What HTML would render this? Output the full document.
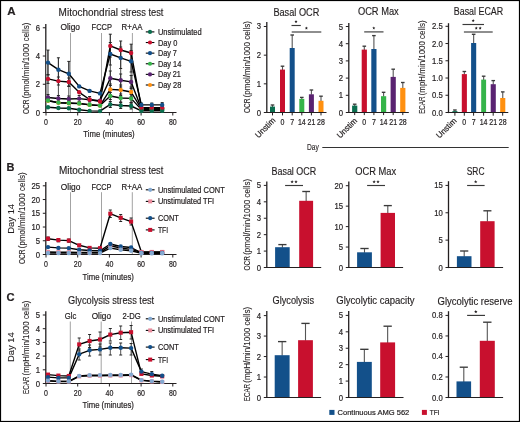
<!DOCTYPE html>
<html><head><meta charset="utf-8"><title>Figure</title>
<style>
html,body{margin:0;padding:0;background:#fff;}
body{width:520px;height:422px;overflow:hidden;position:relative;}
svg{position:absolute;left:0;top:0;display:block;}
text{font-family:"Liberation Sans",sans-serif;fill:#231f20;stroke:#231f20;stroke-width:0.2px;}
svg{will-change:transform;}
</style></head><body>
<svg width="520" height="422" viewBox="0 0 520 422" font-family="Liberation Sans, sans-serif" font-size="8">
<rect x="0" y="0" width="520" height="422" fill="#fff"/>
<text x="7.3" y="15.3" font-weight="bold" font-size="11.5">A</text>
<text x="58.6" y="15.7" style="stroke-width:0.15px" textLength="59.4" lengthAdjust="spacingAndGlyphs" font-size="10.2">Mitochondrial</text>
<text x="121.1" y="15.7" style="stroke-width:0.15px" textLength="42.3" lengthAdjust="spacingAndGlyphs" font-size="10.2">stress test</text>
<text x="60.4" y="29.5" textLength="19.6" lengthAdjust="spacingAndGlyphs" font-size="8.2">Oligo</text>
<text x="91.6" y="29.5" textLength="20.3" lengthAdjust="spacingAndGlyphs" font-size="8.2">FCCP</text>
<text x="121.6" y="29.5" textLength="20.8" lengthAdjust="spacingAndGlyphs" font-size="8.2">R+AA</text>
<line x1="70.5" y1="33" x2="70.5" y2="112.4" stroke="#8c8c8c" stroke-width="0.8"/>
<line x1="101.5" y1="33" x2="101.5" y2="112.4" stroke="#8c8c8c" stroke-width="0.8"/>
<line x1="132.4" y1="33" x2="132.4" y2="112.4" stroke="#8c8c8c" stroke-width="0.8"/>
<line x1="45.8" y1="24" x2="45.8" y2="113.1" stroke="#231f20" stroke-width="1.3"/>
<line x1="42.8" y1="112.5" x2="45.8" y2="112.5" stroke="#231f20" stroke-width="1"/>
<text x="40.1" y="115.5" text-anchor="end" textLength="4.3" lengthAdjust="spacingAndGlyphs" font-size="8.5">0</text>
<line x1="42.8" y1="84.26" x2="45.8" y2="84.26" stroke="#231f20" stroke-width="1"/>
<text x="40.1" y="87.26" text-anchor="end" textLength="4.3" lengthAdjust="spacingAndGlyphs" font-size="8.5">2</text>
<line x1="42.8" y1="56.02" x2="45.8" y2="56.02" stroke="#231f20" stroke-width="1"/>
<text x="40.1" y="59.02" text-anchor="end" textLength="4.3" lengthAdjust="spacingAndGlyphs" font-size="8.5">4</text>
<line x1="42.8" y1="27.78" x2="45.8" y2="27.78" stroke="#231f20" stroke-width="1"/>
<text x="40.1" y="30.78" text-anchor="end" textLength="4.3" lengthAdjust="spacingAndGlyphs" font-size="8.5">6</text>
<line x1="45.2" y1="112.5" x2="176.5" y2="112.5" stroke="#231f20" stroke-width="1.15"/>
<line x1="46" y1="112.5" x2="46" y2="115.5" stroke="#231f20" stroke-width="1"/>
<text x="46" y="124.6" text-anchor="middle" textLength="3.9" lengthAdjust="spacingAndGlyphs" font-size="8.3">0</text>
<line x1="77.7" y1="112.5" x2="77.7" y2="115.5" stroke="#231f20" stroke-width="1"/>
<text x="77.7" y="124.6" text-anchor="middle" textLength="7.8" lengthAdjust="spacingAndGlyphs" font-size="8.3">20</text>
<line x1="109.4" y1="112.5" x2="109.4" y2="115.5" stroke="#231f20" stroke-width="1"/>
<text x="109.4" y="124.6" text-anchor="middle" textLength="7.8" lengthAdjust="spacingAndGlyphs" font-size="8.3">40</text>
<line x1="141.1" y1="112.5" x2="141.1" y2="115.5" stroke="#231f20" stroke-width="1"/>
<text x="141.1" y="124.6" text-anchor="middle" textLength="7.8" lengthAdjust="spacingAndGlyphs" font-size="8.3">60</text>
<line x1="172.8" y1="112.5" x2="172.8" y2="115.5" stroke="#231f20" stroke-width="1"/>
<text x="172.8" y="124.6" text-anchor="middle" textLength="7.8" lengthAdjust="spacingAndGlyphs" font-size="8.3">80</text>
<text x="83.3" y="137.3" textLength="51.4" lengthAdjust="spacingAndGlyphs" font-size="8.8">Time (minutes)</text>
<text x="29.2" y="114.1" style="stroke-width:0.1px" textLength="14.6" lengthAdjust="spacingAndGlyphs" font-size="9.4" transform="rotate(-90 29.2 114.1)">OCR</text>
<text x="29.2" y="98.3" style="stroke-width:0.1px" textLength="75.6" lengthAdjust="spacingAndGlyphs" font-size="9.4" transform="rotate(-90 29.2 98.3)">(pmol/min/1000 cells)</text>
<rect x="46.1" y="50.1" width="1.9" height="25" fill="#c4c4c4"/>
<rect x="68.9" y="61.4" width="1.6" height="24.6" fill="#cfcfcf"/>
<line x1="48" y1="50.1" x2="48" y2="100" stroke="#2a2a2a" stroke-width="0.85"/>
<line x1="58.4" y1="57.8" x2="58.4" y2="101" stroke="#2a2a2a" stroke-width="0.85"/>
<line x1="68.8" y1="61.4" x2="68.8" y2="101.5" stroke="#2a2a2a" stroke-width="0.85"/>
<line x1="110.3" y1="34.2" x2="110.3" y2="107.5" stroke="#2a2a2a" stroke-width="0.85"/>
<line x1="120.7" y1="41" x2="120.7" y2="108.5" stroke="#2a2a2a" stroke-width="0.85"/>
<line x1="131.1" y1="44.2" x2="131.1" y2="109" stroke="#2a2a2a" stroke-width="0.85"/>
<line x1="48" y1="50.1" x2="48" y2="75" stroke="#262626" stroke-width="0.8"/>
<line x1="46.5" y1="50.1" x2="49.5" y2="50.1" stroke="#262626" stroke-width="1"/>
<line x1="46.5" y1="75" x2="49.5" y2="75" stroke="#262626" stroke-width="1"/>
<line x1="58.4" y1="57.8" x2="58.4" y2="81.6" stroke="#262626" stroke-width="0.8"/>
<line x1="56.9" y1="57.8" x2="59.9" y2="57.8" stroke="#262626" stroke-width="1"/>
<line x1="56.9" y1="81.6" x2="59.9" y2="81.6" stroke="#262626" stroke-width="1"/>
<line x1="68.8" y1="61.4" x2="68.8" y2="86" stroke="#262626" stroke-width="0.8"/>
<line x1="67.3" y1="61.4" x2="70.3" y2="61.4" stroke="#262626" stroke-width="1"/>
<line x1="67.3" y1="86" x2="70.3" y2="86" stroke="#262626" stroke-width="1"/>
<line x1="48" y1="74.5" x2="48" y2="83.4" stroke="#262626" stroke-width="0.8"/>
<line x1="46.5" y1="74.5" x2="49.5" y2="74.5" stroke="#262626" stroke-width="1"/>
<line x1="46.5" y1="83.4" x2="49.5" y2="83.4" stroke="#262626" stroke-width="1"/>
<line x1="58.4" y1="77" x2="58.4" y2="85" stroke="#262626" stroke-width="0.8"/>
<line x1="56.9" y1="77" x2="59.9" y2="77" stroke="#262626" stroke-width="1"/>
<line x1="56.9" y1="85" x2="59.9" y2="85" stroke="#262626" stroke-width="1"/>
<line x1="68.8" y1="78" x2="68.8" y2="86.5" stroke="#262626" stroke-width="0.8"/>
<line x1="67.3" y1="78" x2="70.3" y2="78" stroke="#262626" stroke-width="1"/>
<line x1="67.3" y1="86.5" x2="70.3" y2="86.5" stroke="#262626" stroke-width="1"/>
<line x1="110.3" y1="34.2" x2="110.3" y2="57" stroke="#262626" stroke-width="0.8"/>
<line x1="108.8" y1="34.2" x2="111.8" y2="34.2" stroke="#262626" stroke-width="1"/>
<line x1="108.8" y1="57" x2="111.8" y2="57" stroke="#262626" stroke-width="1"/>
<line x1="120.7" y1="41" x2="120.7" y2="58.5" stroke="#262626" stroke-width="0.8"/>
<line x1="119.2" y1="41" x2="122.2" y2="41" stroke="#262626" stroke-width="1"/>
<line x1="119.2" y1="58.5" x2="122.2" y2="58.5" stroke="#262626" stroke-width="1"/>
<line x1="131.1" y1="44.2" x2="131.1" y2="61" stroke="#262626" stroke-width="0.8"/>
<line x1="129.6" y1="44.2" x2="132.6" y2="44.2" stroke="#262626" stroke-width="1"/>
<line x1="129.6" y1="61" x2="132.6" y2="61" stroke="#262626" stroke-width="1"/>
<line x1="110.3" y1="42.5" x2="110.3" y2="65" stroke="#262626" stroke-width="0.8"/>
<line x1="108.8" y1="42.5" x2="111.8" y2="42.5" stroke="#262626" stroke-width="1"/>
<line x1="108.8" y1="65" x2="111.8" y2="65" stroke="#262626" stroke-width="1"/>
<line x1="120.7" y1="47" x2="120.7" y2="68.5" stroke="#262626" stroke-width="0.8"/>
<line x1="119.2" y1="47" x2="122.2" y2="47" stroke="#262626" stroke-width="1"/>
<line x1="119.2" y1="68.5" x2="122.2" y2="68.5" stroke="#262626" stroke-width="1"/>
<line x1="131.1" y1="50.5" x2="131.1" y2="72" stroke="#262626" stroke-width="0.8"/>
<line x1="129.6" y1="50.5" x2="132.6" y2="50.5" stroke="#262626" stroke-width="1"/>
<line x1="129.6" y1="72" x2="132.6" y2="72" stroke="#262626" stroke-width="1"/>
<line x1="110.3" y1="71" x2="110.3" y2="85.5" stroke="#262626" stroke-width="0.8"/>
<line x1="108.8" y1="71" x2="111.8" y2="71" stroke="#262626" stroke-width="1"/>
<line x1="108.8" y1="85.5" x2="111.8" y2="85.5" stroke="#262626" stroke-width="1"/>
<line x1="120.7" y1="74" x2="120.7" y2="87" stroke="#262626" stroke-width="0.8"/>
<line x1="119.2" y1="74" x2="122.2" y2="74" stroke="#262626" stroke-width="1"/>
<line x1="119.2" y1="87" x2="122.2" y2="87" stroke="#262626" stroke-width="1"/>
<line x1="131.1" y1="75.5" x2="131.1" y2="88.5" stroke="#262626" stroke-width="0.8"/>
<line x1="129.6" y1="75.5" x2="132.6" y2="75.5" stroke="#262626" stroke-width="1"/>
<line x1="129.6" y1="88.5" x2="132.6" y2="88.5" stroke="#262626" stroke-width="1"/>
<line x1="110.3" y1="84" x2="110.3" y2="95" stroke="#262626" stroke-width="0.8"/>
<line x1="108.8" y1="84" x2="111.8" y2="84" stroke="#262626" stroke-width="1"/>
<line x1="108.8" y1="95" x2="111.8" y2="95" stroke="#262626" stroke-width="1"/>
<line x1="120.7" y1="85" x2="120.7" y2="95.5" stroke="#262626" stroke-width="0.8"/>
<line x1="119.2" y1="85" x2="122.2" y2="85" stroke="#262626" stroke-width="1"/>
<line x1="119.2" y1="95.5" x2="122.2" y2="95.5" stroke="#262626" stroke-width="1"/>
<line x1="131.1" y1="87" x2="131.1" y2="97" stroke="#262626" stroke-width="0.8"/>
<line x1="129.6" y1="87" x2="132.6" y2="87" stroke="#262626" stroke-width="1"/>
<line x1="129.6" y1="97" x2="132.6" y2="97" stroke="#262626" stroke-width="1"/>
<line x1="110.3" y1="92.5" x2="110.3" y2="99.5" stroke="#262626" stroke-width="0.8"/>
<line x1="108.8" y1="92.5" x2="111.8" y2="92.5" stroke="#262626" stroke-width="1"/>
<line x1="108.8" y1="99.5" x2="111.8" y2="99.5" stroke="#262626" stroke-width="1"/>
<line x1="120.7" y1="94" x2="120.7" y2="102" stroke="#262626" stroke-width="0.8"/>
<line x1="119.2" y1="94" x2="122.2" y2="94" stroke="#262626" stroke-width="1"/>
<line x1="119.2" y1="102" x2="122.2" y2="102" stroke="#262626" stroke-width="1"/>
<line x1="131.1" y1="94.5" x2="131.1" y2="102.5" stroke="#262626" stroke-width="0.8"/>
<line x1="129.6" y1="94.5" x2="132.6" y2="94.5" stroke="#262626" stroke-width="1"/>
<line x1="129.6" y1="102.5" x2="132.6" y2="102.5" stroke="#262626" stroke-width="1"/>
<line x1="110.3" y1="101.5" x2="110.3" y2="107.5" stroke="#262626" stroke-width="0.8"/>
<line x1="108.8" y1="101.5" x2="111.8" y2="101.5" stroke="#262626" stroke-width="1"/>
<line x1="108.8" y1="107.5" x2="111.8" y2="107.5" stroke="#262626" stroke-width="1"/>
<line x1="120.7" y1="102.5" x2="120.7" y2="108.5" stroke="#262626" stroke-width="0.8"/>
<line x1="119.2" y1="102.5" x2="122.2" y2="102.5" stroke="#262626" stroke-width="1"/>
<line x1="119.2" y1="108.5" x2="122.2" y2="108.5" stroke="#262626" stroke-width="1"/>
<line x1="131.1" y1="103" x2="131.1" y2="109" stroke="#262626" stroke-width="0.8"/>
<line x1="129.6" y1="103" x2="132.6" y2="103" stroke="#262626" stroke-width="1"/>
<line x1="129.6" y1="109" x2="132.6" y2="109" stroke="#262626" stroke-width="1"/>
<line x1="48" y1="94.5" x2="48" y2="100" stroke="#262626" stroke-width="0.8"/>
<line x1="46.5" y1="94.5" x2="49.5" y2="94.5" stroke="#262626" stroke-width="1"/>
<line x1="46.5" y1="100" x2="49.5" y2="100" stroke="#262626" stroke-width="1"/>
<line x1="58.4" y1="95.5" x2="58.4" y2="101" stroke="#262626" stroke-width="0.8"/>
<line x1="56.9" y1="95.5" x2="59.9" y2="95.5" stroke="#262626" stroke-width="1"/>
<line x1="56.9" y1="101" x2="59.9" y2="101" stroke="#262626" stroke-width="1"/>
<line x1="68.8" y1="96" x2="68.8" y2="101.5" stroke="#262626" stroke-width="0.8"/>
<line x1="67.3" y1="96" x2="70.3" y2="96" stroke="#262626" stroke-width="1"/>
<line x1="67.3" y1="101.5" x2="70.3" y2="101.5" stroke="#262626" stroke-width="1"/>
<line x1="79.2" y1="95.5" x2="79.2" y2="101.5" stroke="#262626" stroke-width="0.8"/>
<line x1="77.7" y1="95.5" x2="80.7" y2="95.5" stroke="#262626" stroke-width="1"/>
<line x1="77.7" y1="101.5" x2="80.7" y2="101.5" stroke="#262626" stroke-width="1"/>
<line x1="89.6" y1="96.5" x2="89.6" y2="102" stroke="#262626" stroke-width="0.8"/>
<line x1="88.1" y1="96.5" x2="91.1" y2="96.5" stroke="#262626" stroke-width="1"/>
<line x1="88.1" y1="102" x2="91.1" y2="102" stroke="#262626" stroke-width="1"/>
<line x1="141.4" y1="103" x2="141.4" y2="107" stroke="#262626" stroke-width="0.8"/>
<line x1="139.9" y1="103" x2="142.9" y2="103" stroke="#262626" stroke-width="1"/>
<line x1="139.9" y1="107" x2="142.9" y2="107" stroke="#262626" stroke-width="1"/>
<line x1="151.8" y1="103" x2="151.8" y2="107" stroke="#262626" stroke-width="0.8"/>
<line x1="150.3" y1="103" x2="153.3" y2="103" stroke="#262626" stroke-width="1"/>
<line x1="150.3" y1="107" x2="153.3" y2="107" stroke="#262626" stroke-width="1"/>
<line x1="162.2" y1="102.6" x2="162.2" y2="107" stroke="#262626" stroke-width="0.8"/>
<line x1="160.7" y1="102.6" x2="163.7" y2="102.6" stroke="#262626" stroke-width="1"/>
<line x1="160.7" y1="107" x2="163.7" y2="107" stroke="#262626" stroke-width="1"/>
<polyline points="48,100.7 58.4,102.8 68.8,103.2 79.2,103.6 89.6,104.9 100,105.6 110.3,89.4 120.7,90 131.1,92 141.4,108.8 151.8,108.8 162.2,108.8" fill="none" stroke="#000" stroke-width="1.4" stroke-linejoin="round"/>
<polyline points="48,97.5 58.4,98.5 68.8,99 79.2,98.6 89.6,99.8 100,100.6 110.3,78.3 120.7,80.3 131.1,81.9 141.4,108.6 151.8,108.6 162.2,108.6" fill="none" stroke="#000" stroke-width="1.4" stroke-linejoin="round"/>
<polyline points="48,100.5 58.4,102.6 68.8,103 79.2,103.4 89.6,104.7 100,105.5 110.3,96 120.7,98 131.1,98.4 141.4,109.6 151.8,109.6 162.2,109.6" fill="none" stroke="#000" stroke-width="1.4" stroke-linejoin="round"/>
<polyline points="48,107.2 58.4,108 68.8,108.2 79.2,109.8 89.6,110.9 100,111.1 110.3,104.4 120.7,105.5 131.1,106 141.4,110.8 151.8,110.8 162.2,110.8" fill="none" stroke="#000" stroke-width="1.4" stroke-linejoin="round"/>
<polyline points="48,78.9 58.4,81.1 68.8,82 79.2,92.3 89.6,99.5 100,101.5 110.3,45.9 120.7,50 131.1,53 141.4,107.6 151.8,107.6 162.2,107.6" fill="none" stroke="#000" stroke-width="1.4" stroke-linejoin="round"/>
<polyline points="48,62.6 58.4,69.7 68.8,73.8 79.2,86.4 89.6,90.9 100,93.4 110.3,54 120.7,57.9 131.1,61.3 141.4,104.9 151.8,104.9 162.2,104.9" fill="none" stroke="#000" stroke-width="1.4" stroke-linejoin="round"/>
<circle cx="48" cy="100.7" r="2.2" fill="#ff9010"/>
<circle cx="58.4" cy="102.8" r="2.2" fill="#ff9010"/>
<circle cx="68.8" cy="103.2" r="2.2" fill="#ff9010"/>
<circle cx="79.2" cy="103.6" r="2.2" fill="#ff9010"/>
<circle cx="89.6" cy="104.9" r="2.2" fill="#ff9010"/>
<circle cx="100" cy="105.6" r="2.2" fill="#ff9010"/>
<circle cx="110.3" cy="89.4" r="2.2" fill="#ff9010"/>
<circle cx="120.7" cy="90" r="2.2" fill="#ff9010"/>
<circle cx="131.1" cy="92" r="2.2" fill="#ff9010"/>
<circle cx="141.4" cy="108.8" r="2.2" fill="#ff9010"/>
<circle cx="151.8" cy="108.8" r="2.2" fill="#ff9010"/>
<circle cx="162.2" cy="108.8" r="2.2" fill="#ff9010"/>
<circle cx="48" cy="97.5" r="2.2" fill="#5a2371"/>
<circle cx="58.4" cy="98.5" r="2.2" fill="#5a2371"/>
<circle cx="68.8" cy="99" r="2.2" fill="#5a2371"/>
<circle cx="79.2" cy="98.6" r="2.2" fill="#5a2371"/>
<circle cx="89.6" cy="99.8" r="2.2" fill="#5a2371"/>
<circle cx="100" cy="100.6" r="2.2" fill="#5a2371"/>
<circle cx="110.3" cy="78.3" r="2.2" fill="#5a2371"/>
<circle cx="120.7" cy="80.3" r="2.2" fill="#5a2371"/>
<circle cx="131.1" cy="81.9" r="2.2" fill="#5a2371"/>
<circle cx="141.4" cy="108.6" r="2.2" fill="#5a2371"/>
<circle cx="151.8" cy="108.6" r="2.2" fill="#5a2371"/>
<circle cx="162.2" cy="108.6" r="2.2" fill="#5a2371"/>
<circle cx="48" cy="100.5" r="2.2" fill="#35b449"/>
<circle cx="58.4" cy="102.6" r="2.2" fill="#35b449"/>
<circle cx="68.8" cy="103" r="2.2" fill="#35b449"/>
<circle cx="79.2" cy="103.4" r="2.2" fill="#35b449"/>
<circle cx="89.6" cy="104.7" r="2.2" fill="#35b449"/>
<circle cx="100" cy="105.5" r="2.2" fill="#35b449"/>
<circle cx="110.3" cy="96" r="2.2" fill="#35b449"/>
<circle cx="120.7" cy="98" r="2.2" fill="#35b449"/>
<circle cx="131.1" cy="98.4" r="2.2" fill="#35b449"/>
<circle cx="141.4" cy="109.6" r="2.2" fill="#35b449"/>
<circle cx="151.8" cy="109.6" r="2.2" fill="#35b449"/>
<circle cx="162.2" cy="109.6" r="2.2" fill="#35b449"/>
<circle cx="48" cy="107.2" r="2.2" fill="#0b6e4f"/>
<circle cx="58.4" cy="108" r="2.2" fill="#0b6e4f"/>
<circle cx="68.8" cy="108.2" r="2.2" fill="#0b6e4f"/>
<circle cx="79.2" cy="109.8" r="2.2" fill="#0b6e4f"/>
<circle cx="89.6" cy="110.9" r="2.2" fill="#0b6e4f"/>
<circle cx="100" cy="111.1" r="2.2" fill="#0b6e4f"/>
<circle cx="110.3" cy="104.4" r="2.2" fill="#0b6e4f"/>
<circle cx="120.7" cy="105.5" r="2.2" fill="#0b6e4f"/>
<circle cx="131.1" cy="106" r="2.2" fill="#0b6e4f"/>
<circle cx="141.4" cy="110.8" r="2.2" fill="#0b6e4f"/>
<circle cx="151.8" cy="110.8" r="2.2" fill="#0b6e4f"/>
<circle cx="162.2" cy="110.8" r="2.2" fill="#0b6e4f"/>
<circle cx="48" cy="78.9" r="2.2" fill="#c8102e"/>
<circle cx="58.4" cy="81.1" r="2.2" fill="#c8102e"/>
<circle cx="68.8" cy="82" r="2.2" fill="#c8102e"/>
<circle cx="79.2" cy="92.3" r="2.2" fill="#c8102e"/>
<circle cx="89.6" cy="99.5" r="2.2" fill="#c8102e"/>
<circle cx="100" cy="101.5" r="2.2" fill="#c8102e"/>
<circle cx="110.3" cy="45.9" r="2.2" fill="#c8102e"/>
<circle cx="120.7" cy="50" r="2.2" fill="#c8102e"/>
<circle cx="131.1" cy="53" r="2.2" fill="#c8102e"/>
<circle cx="141.4" cy="107.6" r="2.2" fill="#c8102e"/>
<circle cx="151.8" cy="107.6" r="2.2" fill="#c8102e"/>
<circle cx="162.2" cy="107.6" r="2.2" fill="#c8102e"/>
<circle cx="48" cy="62.6" r="2.2" fill="#13508a"/>
<circle cx="58.4" cy="69.7" r="2.2" fill="#13508a"/>
<circle cx="68.8" cy="73.8" r="2.2" fill="#13508a"/>
<circle cx="79.2" cy="86.4" r="2.2" fill="#13508a"/>
<circle cx="89.6" cy="90.9" r="2.2" fill="#13508a"/>
<circle cx="100" cy="93.4" r="2.2" fill="#13508a"/>
<circle cx="110.3" cy="54" r="2.2" fill="#13508a"/>
<circle cx="120.7" cy="57.9" r="2.2" fill="#13508a"/>
<circle cx="131.1" cy="61.3" r="2.2" fill="#13508a"/>
<circle cx="141.4" cy="104.9" r="2.2" fill="#13508a"/>
<circle cx="151.8" cy="104.9" r="2.2" fill="#13508a"/>
<circle cx="162.2" cy="104.9" r="2.2" fill="#13508a"/>
<line x1="145.8" y1="31.9" x2="154.4" y2="31.9" stroke="#000" stroke-width="1.1"/>
<circle cx="150" cy="31.9" r="2.1" fill="#0b6e4f"/>
<text x="157.9" y="34.9" textLength="43.8" lengthAdjust="spacingAndGlyphs" font-size="8.3">Unstimulated</text>
<line x1="145.8" y1="42.52" x2="154.4" y2="42.52" stroke="#000" stroke-width="1.1"/>
<circle cx="150" cy="42.52" r="2.1" fill="#c8102e"/>
<text x="157.9" y="45.52" textLength="19.4" lengthAdjust="spacingAndGlyphs" font-size="8.3">Day 0</text>
<line x1="145.8" y1="53.14" x2="154.4" y2="53.14" stroke="#000" stroke-width="1.1"/>
<circle cx="150" cy="53.14" r="2.1" fill="#13508a"/>
<text x="157.9" y="56.14" textLength="19" lengthAdjust="spacingAndGlyphs" font-size="8.3">Day 7</text>
<line x1="145.8" y1="63.76" x2="154.4" y2="63.76" stroke="#000" stroke-width="1.1"/>
<circle cx="150" cy="63.76" r="2.1" fill="#35b449"/>
<text x="157.9" y="66.76" textLength="23.4" lengthAdjust="spacingAndGlyphs" font-size="8.3">Day 14</text>
<line x1="145.8" y1="74.38" x2="154.4" y2="74.38" stroke="#000" stroke-width="1.1"/>
<circle cx="150" cy="74.38" r="2.1" fill="#5a2371"/>
<text x="157.9" y="77.38" textLength="23" lengthAdjust="spacingAndGlyphs" font-size="8.3">Day 21</text>
<line x1="145.8" y1="85" x2="154.4" y2="85" stroke="#000" stroke-width="1.1"/>
<circle cx="150" cy="85" r="2.1" fill="#ff9010"/>
<text x="157.9" y="88" textLength="23.4" lengthAdjust="spacingAndGlyphs" font-size="8.3">Day 28</text>
<line x1="266.8" y1="21.9" x2="266.8" y2="113.1" stroke="#231f20" stroke-width="1.3"/>
<line x1="263.8" y1="112.5" x2="266.8" y2="112.5" stroke="#231f20" stroke-width="1"/>
<text x="261.1" y="115.5" text-anchor="end" textLength="4.3" lengthAdjust="spacingAndGlyphs" font-size="8.5">0</text>
<line x1="263.8" y1="83.83" x2="266.8" y2="83.83" stroke="#231f20" stroke-width="1"/>
<text x="261.1" y="86.83" text-anchor="end" textLength="4.3" lengthAdjust="spacingAndGlyphs" font-size="8.5">1</text>
<line x1="263.8" y1="55.16" x2="266.8" y2="55.16" stroke="#231f20" stroke-width="1"/>
<text x="261.1" y="58.16" text-anchor="end" textLength="4.3" lengthAdjust="spacingAndGlyphs" font-size="8.5">2</text>
<line x1="263.8" y1="26.49" x2="266.8" y2="26.49" stroke="#231f20" stroke-width="1"/>
<text x="261.1" y="29.49" text-anchor="end" textLength="4.3" lengthAdjust="spacingAndGlyphs" font-size="8.5">3</text>
<line x1="272.5" y1="105" x2="272.5" y2="107.1" stroke="#555" stroke-width="1.1"/>
<line x1="270.7" y1="105" x2="274.3" y2="105" stroke="#3a3a3a" stroke-width="1.35"/>
<rect x="270" y="106.6" width="5" height="5.9" fill="#0b6e4f"/>
<line x1="282.5" y1="66.2" x2="282.5" y2="70.1" stroke="#555" stroke-width="1.1"/>
<line x1="280.7" y1="66.2" x2="284.3" y2="66.2" stroke="#3a3a3a" stroke-width="1.35"/>
<rect x="280" y="69.6" width="5" height="42.9" fill="#c8102e"/>
<line x1="292.2" y1="35" x2="292.2" y2="48.5" stroke="#555" stroke-width="1.1"/>
<line x1="290.4" y1="35" x2="294" y2="35" stroke="#3a3a3a" stroke-width="1.35"/>
<rect x="289.7" y="48" width="5" height="64.5" fill="#13508a"/>
<line x1="301.8" y1="97.4" x2="301.8" y2="99.4" stroke="#555" stroke-width="1.1"/>
<line x1="300" y1="97.4" x2="303.6" y2="97.4" stroke="#3a3a3a" stroke-width="1.35"/>
<rect x="299.3" y="98.9" width="5" height="13.6" fill="#35b449"/>
<line x1="311.4" y1="90" x2="311.4" y2="94.8" stroke="#555" stroke-width="1.1"/>
<line x1="309.6" y1="90" x2="313.2" y2="90" stroke="#3a3a3a" stroke-width="1.35"/>
<rect x="308.9" y="94.3" width="5" height="18.2" fill="#5a2371"/>
<line x1="321" y1="96.2" x2="321" y2="101.3" stroke="#555" stroke-width="1.1"/>
<line x1="319.2" y1="96.2" x2="322.8" y2="96.2" stroke="#3a3a3a" stroke-width="1.35"/>
<rect x="318.5" y="100.8" width="5" height="11.7" fill="#ff9010"/>
<line x1="266.2" y1="112.5" x2="326.5" y2="112.5" stroke="#231f20" stroke-width="1.15"/>
<line x1="291.5" y1="25.5" x2="300.8" y2="25.5" stroke="#3a3a3a" stroke-width="1.15"/>
<polygon points="296,20.1 296.42,21.12 297.52,21.21 296.68,21.92 296.94,22.99 296,22.42 295.06,22.99 295.32,21.92 294.48,21.21 295.58,21.12" fill="#231f20"/>
<line x1="291.7" y1="32" x2="321.3" y2="32" stroke="#3a3a3a" stroke-width="1.15"/>
<polygon points="306.4,26.6 306.82,27.62 307.92,27.71 307.08,28.42 307.34,29.49 306.4,28.92 305.46,29.49 305.72,28.42 304.88,27.71 305.98,27.62" fill="#231f20"/>
<text x="273.4" y="15.5" style="stroke-width:0.15px" textLength="45.9" lengthAdjust="spacingAndGlyphs" font-size="10">Basal OCR</text>
<line x1="272.5" y1="112.2" x2="272.5" y2="115.4" stroke="#231f20" stroke-width="1"/>
<line x1="282.5" y1="112.2" x2="282.5" y2="115.4" stroke="#231f20" stroke-width="1"/>
<text x="282.5" y="124.8" text-anchor="middle" textLength="3.9" lengthAdjust="spacingAndGlyphs" font-size="8.3">0</text>
<line x1="292.2" y1="112.2" x2="292.2" y2="115.4" stroke="#231f20" stroke-width="1"/>
<text x="292.2" y="124.8" text-anchor="middle" textLength="3.9" lengthAdjust="spacingAndGlyphs" font-size="8.3">7</text>
<line x1="301.8" y1="112.2" x2="301.8" y2="115.4" stroke="#231f20" stroke-width="1"/>
<text x="301.8" y="124.8" text-anchor="middle" textLength="7.8" lengthAdjust="spacingAndGlyphs" font-size="8.3">14</text>
<line x1="311.4" y1="112.2" x2="311.4" y2="115.4" stroke="#231f20" stroke-width="1"/>
<text x="311.4" y="124.8" text-anchor="middle" textLength="7.8" lengthAdjust="spacingAndGlyphs" font-size="8.3">21</text>
<line x1="321" y1="112.2" x2="321" y2="115.4" stroke="#231f20" stroke-width="1"/>
<text x="321" y="124.8" text-anchor="middle" textLength="7.8" lengthAdjust="spacingAndGlyphs" font-size="8.3">28</text>
<text x="276" y="120.9" text-anchor="end" textLength="24.8" lengthAdjust="spacingAndGlyphs" font-size="8.3" transform="rotate(-45 276 120.9)">Unstim</text>
<text x="249.9" y="113.1" style="stroke-width:0.1px" textLength="14.6" lengthAdjust="spacingAndGlyphs" font-size="9.4" transform="rotate(-90 249.9 113.1)">OCR</text>
<text x="249.9" y="97.3" style="stroke-width:0.1px" textLength="76.2" lengthAdjust="spacingAndGlyphs" font-size="9.4" transform="rotate(-90 249.9 97.3)">(pmol/min/1000 cells)</text>
<line x1="348.8" y1="23" x2="348.8" y2="113.1" stroke="#231f20" stroke-width="1.3"/>
<line x1="345.8" y1="112.5" x2="348.8" y2="112.5" stroke="#231f20" stroke-width="1"/>
<text x="343.1" y="115.5" text-anchor="end" textLength="4.3" lengthAdjust="spacingAndGlyphs" font-size="8.5">0</text>
<line x1="345.8" y1="95.3" x2="348.8" y2="95.3" stroke="#231f20" stroke-width="1"/>
<text x="343.1" y="98.3" text-anchor="end" textLength="4.3" lengthAdjust="spacingAndGlyphs" font-size="8.5">1</text>
<line x1="345.8" y1="78.1" x2="348.8" y2="78.1" stroke="#231f20" stroke-width="1"/>
<text x="343.1" y="81.1" text-anchor="end" textLength="4.3" lengthAdjust="spacingAndGlyphs" font-size="8.5">2</text>
<line x1="345.8" y1="60.9" x2="348.8" y2="60.9" stroke="#231f20" stroke-width="1"/>
<text x="343.1" y="63.9" text-anchor="end" textLength="4.3" lengthAdjust="spacingAndGlyphs" font-size="8.5">3</text>
<line x1="345.8" y1="43.7" x2="348.8" y2="43.7" stroke="#231f20" stroke-width="1"/>
<text x="343.1" y="46.7" text-anchor="end" textLength="4.3" lengthAdjust="spacingAndGlyphs" font-size="8.5">4</text>
<line x1="345.8" y1="26.5" x2="348.8" y2="26.5" stroke="#231f20" stroke-width="1"/>
<text x="343.1" y="29.5" text-anchor="end" textLength="4.3" lengthAdjust="spacingAndGlyphs" font-size="8.5">5</text>
<line x1="354.7" y1="104.2" x2="354.7" y2="106.1" stroke="#555" stroke-width="1.1"/>
<line x1="352.9" y1="104.2" x2="356.5" y2="104.2" stroke="#3a3a3a" stroke-width="1.35"/>
<rect x="352.1" y="105.6" width="5.2" height="6.9" fill="#0b6e4f"/>
<line x1="364.3" y1="46.2" x2="364.3" y2="50.1" stroke="#555" stroke-width="1.1"/>
<line x1="362.5" y1="46.2" x2="366.1" y2="46.2" stroke="#3a3a3a" stroke-width="1.35"/>
<rect x="361.7" y="49.6" width="5.2" height="62.9" fill="#c8102e"/>
<line x1="373.9" y1="35.6" x2="373.9" y2="49.5" stroke="#555" stroke-width="1.1"/>
<line x1="372.1" y1="35.6" x2="375.7" y2="35.6" stroke="#3a3a3a" stroke-width="1.35"/>
<rect x="371.3" y="49" width="5.2" height="63.5" fill="#13508a"/>
<line x1="383.6" y1="92.3" x2="383.6" y2="96.7" stroke="#555" stroke-width="1.1"/>
<line x1="381.8" y1="92.3" x2="385.4" y2="92.3" stroke="#3a3a3a" stroke-width="1.35"/>
<rect x="381" y="96.2" width="5.2" height="16.3" fill="#35b449"/>
<line x1="393.2" y1="69.2" x2="393.2" y2="77.4" stroke="#555" stroke-width="1.1"/>
<line x1="391.4" y1="69.2" x2="395" y2="69.2" stroke="#3a3a3a" stroke-width="1.35"/>
<rect x="390.6" y="76.9" width="5.2" height="35.6" fill="#5a2371"/>
<line x1="402.8" y1="82.5" x2="402.8" y2="88.4" stroke="#555" stroke-width="1.1"/>
<line x1="401" y1="82.5" x2="404.6" y2="82.5" stroke="#3a3a3a" stroke-width="1.35"/>
<rect x="400.2" y="87.9" width="5.2" height="24.6" fill="#ff9010"/>
<line x1="348.2" y1="112.5" x2="408.8" y2="112.5" stroke="#231f20" stroke-width="1.15"/>
<line x1="364.2" y1="31.9" x2="383.5" y2="31.9" stroke="#3a3a3a" stroke-width="1.15"/>
<polygon points="373.8,26.5 374.22,27.52 375.32,27.61 374.48,28.32 374.74,29.39 373.8,28.82 372.86,29.39 373.12,28.32 372.28,27.61 373.38,27.52" fill="#231f20"/>
<text x="357.9" y="15.4" style="stroke-width:0.15px" textLength="40.9" lengthAdjust="spacingAndGlyphs" font-size="10">OCR Max</text>
<line x1="354.7" y1="111.9" x2="354.7" y2="115.1" stroke="#231f20" stroke-width="1"/>
<line x1="364.3" y1="111.9" x2="364.3" y2="115.1" stroke="#231f20" stroke-width="1"/>
<text x="364.3" y="124.6" text-anchor="middle" textLength="3.9" lengthAdjust="spacingAndGlyphs" font-size="8.3">0</text>
<line x1="373.9" y1="111.9" x2="373.9" y2="115.1" stroke="#231f20" stroke-width="1"/>
<text x="373.9" y="124.6" text-anchor="middle" textLength="3.9" lengthAdjust="spacingAndGlyphs" font-size="8.3">7</text>
<line x1="383.6" y1="111.9" x2="383.6" y2="115.1" stroke="#231f20" stroke-width="1"/>
<text x="383.6" y="124.6" text-anchor="middle" textLength="7.8" lengthAdjust="spacingAndGlyphs" font-size="8.3">14</text>
<line x1="393.2" y1="111.9" x2="393.2" y2="115.1" stroke="#231f20" stroke-width="1"/>
<text x="393.2" y="124.6" text-anchor="middle" textLength="7.8" lengthAdjust="spacingAndGlyphs" font-size="8.3">21</text>
<line x1="402.8" y1="111.9" x2="402.8" y2="115.1" stroke="#231f20" stroke-width="1"/>
<text x="402.8" y="124.6" text-anchor="middle" textLength="7.8" lengthAdjust="spacingAndGlyphs" font-size="8.3">28</text>
<text x="357.7" y="121.2" text-anchor="end" textLength="24.8" lengthAdjust="spacingAndGlyphs" font-size="8.3" transform="rotate(-45 357.7 121.2)">Unstim</text>
<line x1="448.5" y1="23.2" x2="448.5" y2="113.1" stroke="#231f20" stroke-width="1.3"/>
<line x1="445.5" y1="112.5" x2="448.5" y2="112.5" stroke="#231f20" stroke-width="1"/>
<text x="442.8" y="115.5" text-anchor="end" textLength="10.7" lengthAdjust="spacingAndGlyphs" font-size="8.5">0.0</text>
<line x1="445.5" y1="95.26" x2="448.5" y2="95.26" stroke="#231f20" stroke-width="1"/>
<text x="442.8" y="98.26" text-anchor="end" textLength="10.7" lengthAdjust="spacingAndGlyphs" font-size="8.5">0.5</text>
<line x1="445.5" y1="78.02" x2="448.5" y2="78.02" stroke="#231f20" stroke-width="1"/>
<text x="442.8" y="81.02" text-anchor="end" textLength="10.7" lengthAdjust="spacingAndGlyphs" font-size="8.5">1.0</text>
<line x1="445.5" y1="60.78" x2="448.5" y2="60.78" stroke="#231f20" stroke-width="1"/>
<text x="442.8" y="63.78" text-anchor="end" textLength="10.7" lengthAdjust="spacingAndGlyphs" font-size="8.5">1.5</text>
<line x1="445.5" y1="43.54" x2="448.5" y2="43.54" stroke="#231f20" stroke-width="1"/>
<text x="442.8" y="46.54" text-anchor="end" textLength="10.7" lengthAdjust="spacingAndGlyphs" font-size="8.5">2.0</text>
<line x1="445.5" y1="26.3" x2="448.5" y2="26.3" stroke="#231f20" stroke-width="1"/>
<text x="442.8" y="29.3" text-anchor="end" textLength="10.7" lengthAdjust="spacingAndGlyphs" font-size="8.5">2.5</text>
<line x1="454.9" y1="110" x2="454.9" y2="111.6" stroke="#555" stroke-width="1.1"/>
<line x1="453.1" y1="110" x2="456.7" y2="110" stroke="#3a3a3a" stroke-width="1.35"/>
<rect x="452.4" y="111.1" width="5" height="1.4" fill="#0b6e4f"/>
<line x1="464.35" y1="71.5" x2="464.35" y2="74.6" stroke="#555" stroke-width="1.1"/>
<line x1="462.55" y1="71.5" x2="466.15" y2="71.5" stroke="#3a3a3a" stroke-width="1.35"/>
<rect x="461.8" y="74.1" width="5.1" height="38.4" fill="#c8102e"/>
<line x1="473.65" y1="34.3" x2="473.65" y2="43.5" stroke="#555" stroke-width="1.1"/>
<line x1="471.85" y1="34.3" x2="475.45" y2="34.3" stroke="#3a3a3a" stroke-width="1.35"/>
<rect x="471.1" y="43" width="5.1" height="69.5" fill="#13508a"/>
<line x1="483.65" y1="76.2" x2="483.65" y2="80.1" stroke="#555" stroke-width="1.1"/>
<line x1="481.85" y1="76.2" x2="485.45" y2="76.2" stroke="#3a3a3a" stroke-width="1.35"/>
<rect x="481.2" y="79.6" width="4.9" height="32.9" fill="#35b449"/>
<line x1="493.25" y1="80.6" x2="493.25" y2="84.7" stroke="#555" stroke-width="1.1"/>
<line x1="491.45" y1="80.6" x2="495.05" y2="80.6" stroke="#3a3a3a" stroke-width="1.35"/>
<rect x="490.7" y="84.2" width="5.1" height="28.3" fill="#5a2371"/>
<line x1="502.75" y1="91.9" x2="502.75" y2="98.5" stroke="#555" stroke-width="1.1"/>
<line x1="500.95" y1="91.9" x2="504.55" y2="91.9" stroke="#3a3a3a" stroke-width="1.35"/>
<rect x="500.2" y="98" width="5.1" height="14.5" fill="#ff9010"/>
<line x1="447.9" y1="112.5" x2="508.3" y2="112.5" stroke="#231f20" stroke-width="1.15"/>
<line x1="462.5" y1="24.5" x2="484" y2="24.5" stroke="#3a3a3a" stroke-width="1.15"/>
<polygon points="473.2,19.1 473.62,20.12 474.72,20.21 473.88,20.92 474.14,21.99 473.2,21.42 472.26,21.99 472.52,20.92 471.68,20.21 472.78,20.12" fill="#231f20"/>
<line x1="463.9" y1="32" x2="492.7" y2="32" stroke="#3a3a3a" stroke-width="1.15"/>
<polygon points="476.25,26.6 476.67,27.62 477.77,27.71 476.93,28.42 477.19,29.49 476.25,28.92 475.31,29.49 475.57,28.42 474.73,27.71 475.83,27.62" fill="#231f20"/>
<polygon points="480.15,26.6 480.57,27.62 481.67,27.71 480.83,28.42 481.09,29.49 480.15,28.92 479.21,29.49 479.47,28.42 478.63,27.71 479.73,27.62" fill="#231f20"/>
<text x="453.8" y="15.1" style="stroke-width:0.15px" textLength="49.4" lengthAdjust="spacingAndGlyphs" font-size="10">Basal ECAR</text>
<line x1="454.9" y1="112.5" x2="454.9" y2="115.7" stroke="#231f20" stroke-width="1"/>
<line x1="464.3" y1="112.5" x2="464.3" y2="115.7" stroke="#231f20" stroke-width="1"/>
<text x="464.3" y="124.6" text-anchor="middle" textLength="3.9" lengthAdjust="spacingAndGlyphs" font-size="8.3">0</text>
<line x1="473.6" y1="112.5" x2="473.6" y2="115.7" stroke="#231f20" stroke-width="1"/>
<text x="473.6" y="124.6" text-anchor="middle" textLength="3.9" lengthAdjust="spacingAndGlyphs" font-size="8.3">7</text>
<line x1="483.6" y1="112.5" x2="483.6" y2="115.7" stroke="#231f20" stroke-width="1"/>
<text x="483.6" y="124.6" text-anchor="middle" textLength="7.8" lengthAdjust="spacingAndGlyphs" font-size="8.3">14</text>
<line x1="493.2" y1="112.5" x2="493.2" y2="115.7" stroke="#231f20" stroke-width="1"/>
<text x="493.2" y="124.6" text-anchor="middle" textLength="7.8" lengthAdjust="spacingAndGlyphs" font-size="8.3">21</text>
<line x1="502.7" y1="112.5" x2="502.7" y2="115.7" stroke="#231f20" stroke-width="1"/>
<text x="502.7" y="124.6" text-anchor="middle" textLength="7.8" lengthAdjust="spacingAndGlyphs" font-size="8.3">28</text>
<text x="457.1" y="121.3" text-anchor="end" textLength="24.8" lengthAdjust="spacingAndGlyphs" font-size="8.3" transform="rotate(-45 457.1 121.3)">Unstim</text>
<text x="425" y="113.8" style="stroke-width:0.1px" textLength="17.3" lengthAdjust="spacingAndGlyphs" font-size="9.4" transform="rotate(-90 425 113.8)">ECAR</text>
<text x="425" y="95.3" style="stroke-width:0.1px" textLength="74.9" lengthAdjust="spacingAndGlyphs" font-size="9.4" transform="rotate(-90 425 95.3)">(mpH/min/1000 cells)</text>
<text x="306.9" y="150.2" style="stroke-width:0.12px" textLength="11.9" lengthAdjust="spacingAndGlyphs" font-size="9.6">Day</text>
<line x1="322.3" y1="147.5" x2="508.7" y2="147.5" stroke="#333" stroke-width="1"/>
<text x="6.6" y="170.9" font-weight="bold" font-size="11">B</text>
<text x="14.1" y="233.7" style="stroke-width:0.1px" textLength="29.8" lengthAdjust="spacingAndGlyphs" font-size="9.5" transform="rotate(-90 14.1 233.7)">Day 14</text>
<text x="58.9" y="174.3" style="stroke-width:0.15px" textLength="59.4" lengthAdjust="spacingAndGlyphs" font-size="10.2">Mitochondrial</text>
<text x="121.2" y="174.3" style="stroke-width:0.15px" textLength="42.1" lengthAdjust="spacingAndGlyphs" font-size="10.2">stress test</text>
<text x="60.8" y="189.6" textLength="19.5" lengthAdjust="spacingAndGlyphs" font-size="8.2">Oligo</text>
<text x="91.5" y="189.6" textLength="20" lengthAdjust="spacingAndGlyphs" font-size="8.2">FCCP</text>
<text x="121.5" y="189.6" textLength="20.8" lengthAdjust="spacingAndGlyphs" font-size="8.2">R+AA</text>
<line x1="70.5" y1="192.2" x2="70.5" y2="254.5" stroke="#8c8c8c" stroke-width="0.8"/>
<line x1="101.5" y1="192.2" x2="101.5" y2="254.5" stroke="#8c8c8c" stroke-width="0.8"/>
<line x1="132.3" y1="192.2" x2="132.3" y2="254.5" stroke="#8c8c8c" stroke-width="0.8"/>
<line x1="45.8" y1="181.9" x2="45.8" y2="255.1" stroke="#231f20" stroke-width="1.3"/>
<line x1="42.8" y1="254.5" x2="45.8" y2="254.5" stroke="#231f20" stroke-width="1"/>
<text x="40.1" y="257.5" text-anchor="end" textLength="4.3" lengthAdjust="spacingAndGlyphs" font-size="8.5">0</text>
<line x1="42.8" y1="240.76" x2="45.8" y2="240.76" stroke="#231f20" stroke-width="1"/>
<text x="40.1" y="243.76" text-anchor="end" textLength="4.3" lengthAdjust="spacingAndGlyphs" font-size="8.5">5</text>
<line x1="42.8" y1="227.02" x2="45.8" y2="227.02" stroke="#231f20" stroke-width="1"/>
<text x="40.1" y="230.02" text-anchor="end" textLength="8.6" lengthAdjust="spacingAndGlyphs" font-size="8.5">10</text>
<line x1="42.8" y1="213.28" x2="45.8" y2="213.28" stroke="#231f20" stroke-width="1"/>
<text x="40.1" y="216.28" text-anchor="end" textLength="8.6" lengthAdjust="spacingAndGlyphs" font-size="8.5">15</text>
<line x1="42.8" y1="199.54" x2="45.8" y2="199.54" stroke="#231f20" stroke-width="1"/>
<text x="40.1" y="202.54" text-anchor="end" textLength="8.6" lengthAdjust="spacingAndGlyphs" font-size="8.5">20</text>
<line x1="42.8" y1="185.8" x2="45.8" y2="185.8" stroke="#231f20" stroke-width="1"/>
<text x="40.1" y="188.8" text-anchor="end" textLength="8.6" lengthAdjust="spacingAndGlyphs" font-size="8.5">25</text>
<line x1="45.2" y1="254.5" x2="176.5" y2="254.5" stroke="#231f20" stroke-width="1.15"/>
<line x1="46" y1="254.5" x2="46" y2="257.5" stroke="#231f20" stroke-width="1"/>
<text x="46" y="266.6" text-anchor="middle" textLength="3.9" lengthAdjust="spacingAndGlyphs" font-size="8.3">0</text>
<line x1="77.7" y1="254.5" x2="77.7" y2="257.5" stroke="#231f20" stroke-width="1"/>
<text x="77.7" y="266.6" text-anchor="middle" textLength="7.8" lengthAdjust="spacingAndGlyphs" font-size="8.3">20</text>
<line x1="109.4" y1="254.5" x2="109.4" y2="257.5" stroke="#231f20" stroke-width="1"/>
<text x="109.4" y="266.6" text-anchor="middle" textLength="7.8" lengthAdjust="spacingAndGlyphs" font-size="8.3">40</text>
<line x1="141.1" y1="254.5" x2="141.1" y2="257.5" stroke="#231f20" stroke-width="1"/>
<text x="141.1" y="266.6" text-anchor="middle" textLength="7.8" lengthAdjust="spacingAndGlyphs" font-size="8.3">60</text>
<line x1="172.8" y1="254.5" x2="172.8" y2="257.5" stroke="#231f20" stroke-width="1"/>
<text x="172.8" y="266.6" text-anchor="middle" textLength="7.8" lengthAdjust="spacingAndGlyphs" font-size="8.3">80</text>
<text x="82.5" y="279.6" textLength="51.4" lengthAdjust="spacingAndGlyphs" font-size="8.8">Time (minutes)</text>
<text x="25.3" y="264" style="stroke-width:0.1px" textLength="14.6" lengthAdjust="spacingAndGlyphs" font-size="9.4" transform="rotate(-90 25.3 264)">OCR</text>
<text x="25.3" y="248.2" style="stroke-width:0.1px" textLength="75.8" lengthAdjust="spacingAndGlyphs" font-size="9.4" transform="rotate(-90 25.3 248.2)">(pmol/min/1000 cells)</text>
<line x1="110.3" y1="210" x2="110.3" y2="217.5" stroke="#262626" stroke-width="0.8"/>
<line x1="108.8" y1="210" x2="111.8" y2="210" stroke="#262626" stroke-width="1"/>
<line x1="108.8" y1="217.5" x2="111.8" y2="217.5" stroke="#262626" stroke-width="1"/>
<line x1="120.7" y1="214.5" x2="120.7" y2="221.5" stroke="#262626" stroke-width="0.8"/>
<line x1="119.2" y1="214.5" x2="122.2" y2="214.5" stroke="#262626" stroke-width="1"/>
<line x1="119.2" y1="221.5" x2="122.2" y2="221.5" stroke="#262626" stroke-width="1"/>
<line x1="131.1" y1="218" x2="131.1" y2="225" stroke="#262626" stroke-width="0.8"/>
<line x1="129.6" y1="218" x2="132.6" y2="218" stroke="#262626" stroke-width="1"/>
<line x1="129.6" y1="225" x2="132.6" y2="225" stroke="#262626" stroke-width="1"/>
<line x1="48" y1="237" x2="48" y2="240.5" stroke="#262626" stroke-width="0.8"/>
<line x1="46.5" y1="237" x2="49.5" y2="237" stroke="#262626" stroke-width="1"/>
<line x1="46.5" y1="240.5" x2="49.5" y2="240.5" stroke="#262626" stroke-width="1"/>
<line x1="58.4" y1="238.5" x2="58.4" y2="241.8" stroke="#262626" stroke-width="0.8"/>
<line x1="56.9" y1="238.5" x2="59.9" y2="238.5" stroke="#262626" stroke-width="1"/>
<line x1="56.9" y1="241.8" x2="59.9" y2="241.8" stroke="#262626" stroke-width="1"/>
<line x1="68.8" y1="239" x2="68.8" y2="242.3" stroke="#262626" stroke-width="0.8"/>
<line x1="67.3" y1="239" x2="70.3" y2="239" stroke="#262626" stroke-width="1"/>
<line x1="67.3" y1="242.3" x2="70.3" y2="242.3" stroke="#262626" stroke-width="1"/>
<polyline points="48,238.7 58.4,240.1 68.8,240.6 79.2,245.3 89.6,247.9 100,248.2 110.3,213.7 120.7,217.8 131.1,221.6 141.4,252 151.8,252 162.2,252" fill="none" stroke="#000" stroke-width="1.4" stroke-linejoin="round"/>
<polyline points="48,252 58.4,252.2 68.8,252.2 79.2,252.4 89.6,252.4 100,252.4 110.3,245.8 120.7,248 131.1,249.4 141.4,252.3 151.8,252.3 162.2,252.3" fill="none" stroke="#000" stroke-width="1.4" stroke-linejoin="round"/>
<polyline points="48,247.1 58.4,247.9 68.8,248.1 79.2,249.8 89.6,250.5 100,250.8 110.3,244 120.7,246.5 131.1,247.5 141.4,252.9 151.8,252.9 162.2,252.9" fill="none" stroke="#000" stroke-width="1.4" stroke-linejoin="round"/>
<polyline points="48,253 58.4,253 68.8,253 79.2,253.1 89.6,253.1 100,253.1 110.3,248.1 120.7,249.7 131.1,250.8 141.4,253.3 151.8,253.3 162.2,253.3" fill="none" stroke="#000" stroke-width="1.4" stroke-linejoin="round"/>
<rect x="45.95" y="236.65" width="4.1" height="4.1" fill="#c8102e"/>
<rect x="56.35" y="238.05" width="4.1" height="4.1" fill="#c8102e"/>
<rect x="66.75" y="238.55" width="4.1" height="4.1" fill="#c8102e"/>
<rect x="77.15" y="243.25" width="4.1" height="4.1" fill="#c8102e"/>
<rect x="87.55" y="245.85" width="4.1" height="4.1" fill="#c8102e"/>
<rect x="97.95" y="246.15" width="4.1" height="4.1" fill="#c8102e"/>
<rect x="108.25" y="211.65" width="4.1" height="4.1" fill="#c8102e"/>
<rect x="118.65" y="215.75" width="4.1" height="4.1" fill="#c8102e"/>
<rect x="129.05" y="219.55" width="4.1" height="4.1" fill="#c8102e"/>
<rect x="139.35" y="249.95" width="4.1" height="4.1" fill="#c8102e"/>
<rect x="149.75" y="249.95" width="4.1" height="4.1" fill="#c8102e"/>
<rect x="160.15" y="249.95" width="4.1" height="4.1" fill="#c8102e"/>
<rect x="45.95" y="249.95" width="4.1" height="4.1" fill="#e98b9c"/>
<rect x="56.35" y="250.15" width="4.1" height="4.1" fill="#e98b9c"/>
<rect x="66.75" y="250.15" width="4.1" height="4.1" fill="#e98b9c"/>
<rect x="77.15" y="250.35" width="4.1" height="4.1" fill="#e98b9c"/>
<rect x="87.55" y="250.35" width="4.1" height="4.1" fill="#e98b9c"/>
<rect x="97.95" y="250.35" width="4.1" height="4.1" fill="#e98b9c"/>
<rect x="108.25" y="243.75" width="4.1" height="4.1" fill="#e98b9c"/>
<rect x="118.65" y="245.95" width="4.1" height="4.1" fill="#e98b9c"/>
<rect x="129.05" y="247.35" width="4.1" height="4.1" fill="#e98b9c"/>
<rect x="139.35" y="250.25" width="4.1" height="4.1" fill="#e98b9c"/>
<rect x="149.75" y="250.25" width="4.1" height="4.1" fill="#e98b9c"/>
<rect x="160.15" y="250.25" width="4.1" height="4.1" fill="#e98b9c"/>
<circle cx="48" cy="247.1" r="2.2" fill="#13508a"/>
<circle cx="58.4" cy="247.9" r="2.2" fill="#13508a"/>
<circle cx="68.8" cy="248.1" r="2.2" fill="#13508a"/>
<circle cx="79.2" cy="249.8" r="2.2" fill="#13508a"/>
<circle cx="89.6" cy="250.5" r="2.2" fill="#13508a"/>
<circle cx="100" cy="250.8" r="2.2" fill="#13508a"/>
<circle cx="110.3" cy="244" r="2.2" fill="#13508a"/>
<circle cx="120.7" cy="246.5" r="2.2" fill="#13508a"/>
<circle cx="131.1" cy="247.5" r="2.2" fill="#13508a"/>
<circle cx="141.4" cy="252.9" r="2.2" fill="#13508a"/>
<circle cx="151.8" cy="252.9" r="2.2" fill="#13508a"/>
<circle cx="162.2" cy="252.9" r="2.2" fill="#13508a"/>
<circle cx="48" cy="253" r="2.2" fill="#84a9d1"/>
<circle cx="58.4" cy="253" r="2.2" fill="#84a9d1"/>
<circle cx="68.8" cy="253" r="2.2" fill="#84a9d1"/>
<circle cx="79.2" cy="253.1" r="2.2" fill="#84a9d1"/>
<circle cx="89.6" cy="253.1" r="2.2" fill="#84a9d1"/>
<circle cx="100" cy="253.1" r="2.2" fill="#84a9d1"/>
<circle cx="110.3" cy="248.1" r="2.2" fill="#84a9d1"/>
<circle cx="120.7" cy="249.7" r="2.2" fill="#84a9d1"/>
<circle cx="131.1" cy="250.8" r="2.2" fill="#84a9d1"/>
<circle cx="141.4" cy="253.3" r="2.2" fill="#84a9d1"/>
<circle cx="151.8" cy="253.3" r="2.2" fill="#84a9d1"/>
<circle cx="162.2" cy="253.3" r="2.2" fill="#84a9d1"/>
<line x1="145.8" y1="189.8" x2="154.6" y2="189.8" stroke="#000" stroke-width="1.1"/>
<circle cx="150.2" cy="189.8" r="2.1" fill="#84a9d1"/>
<text x="157.9" y="192.8" textLength="66.9" lengthAdjust="spacingAndGlyphs" font-size="8.3">Unstimulated CONT</text>
<line x1="145.8" y1="201.4" x2="154.6" y2="201.4" stroke="#000" stroke-width="1.1"/>
<rect x="148.2" y="199.4" width="4" height="4" fill="#e98b9c"/>
<text x="157.9" y="204.4" textLength="56.3" lengthAdjust="spacingAndGlyphs" font-size="8.3">Unstimulated TFI</text>
<line x1="145.8" y1="218.2" x2="154.6" y2="218.2" stroke="#000" stroke-width="1.1"/>
<circle cx="150.2" cy="218.2" r="2.1" fill="#13508a"/>
<text x="157.9" y="221.2" textLength="20.8" lengthAdjust="spacingAndGlyphs" font-size="8.3">CONT</text>
<line x1="145.8" y1="229.9" x2="154.6" y2="229.9" stroke="#000" stroke-width="1.1"/>
<rect x="148.2" y="227.9" width="4" height="4" fill="#c8102e"/>
<text x="157.9" y="232.9" textLength="10.2" lengthAdjust="spacingAndGlyphs" font-size="8.3">TFI</text>
<line x1="266.8" y1="181.5" x2="266.8" y2="268.1" stroke="#231f20" stroke-width="1.3"/>
<line x1="263.8" y1="267.5" x2="266.8" y2="267.5" stroke="#231f20" stroke-width="1"/>
<text x="261.1" y="270.5" text-anchor="end" textLength="4.3" lengthAdjust="spacingAndGlyphs" font-size="8.5">0</text>
<line x1="263.8" y1="251.08" x2="266.8" y2="251.08" stroke="#231f20" stroke-width="1"/>
<text x="261.1" y="254.08" text-anchor="end" textLength="4.3" lengthAdjust="spacingAndGlyphs" font-size="8.5">1</text>
<line x1="263.8" y1="234.66" x2="266.8" y2="234.66" stroke="#231f20" stroke-width="1"/>
<text x="261.1" y="237.66" text-anchor="end" textLength="4.3" lengthAdjust="spacingAndGlyphs" font-size="8.5">2</text>
<line x1="263.8" y1="218.24" x2="266.8" y2="218.24" stroke="#231f20" stroke-width="1"/>
<text x="261.1" y="221.24" text-anchor="end" textLength="4.3" lengthAdjust="spacingAndGlyphs" font-size="8.5">3</text>
<line x1="263.8" y1="201.82" x2="266.8" y2="201.82" stroke="#231f20" stroke-width="1"/>
<text x="261.1" y="204.82" text-anchor="end" textLength="4.3" lengthAdjust="spacingAndGlyphs" font-size="8.5">4</text>
<line x1="263.8" y1="185.4" x2="266.8" y2="185.4" stroke="#231f20" stroke-width="1"/>
<text x="261.1" y="188.4" text-anchor="end" textLength="4.3" lengthAdjust="spacingAndGlyphs" font-size="8.5">5</text>
<line x1="282.4" y1="244.6" x2="282.4" y2="247.7" stroke="#555" stroke-width="1.1"/>
<line x1="278.31" y1="244.6" x2="286.49" y2="244.6" stroke="#3a3a3a" stroke-width="1.35"/>
<rect x="275.1" y="247.2" width="14.6" height="20.3" fill="#13508a"/>
<line x1="306.15" y1="191.5" x2="306.15" y2="201.3" stroke="#555" stroke-width="1.1"/>
<line x1="302.26" y1="191.5" x2="310.04" y2="191.5" stroke="#3a3a3a" stroke-width="1.35"/>
<rect x="299.2" y="200.8" width="13.9" height="66.7" fill="#c8102e"/>
<line x1="266.2" y1="267.5" x2="321.2" y2="267.5" stroke="#231f20" stroke-width="1.15"/>
<line x1="285.1" y1="185.5" x2="303" y2="185.5" stroke="#3a3a3a" stroke-width="1.15"/>
<polygon points="292.1,180 292.57,181.15 293.81,181.24 292.86,182.05 293.16,183.26 292.1,182.6 291.04,183.26 291.34,182.05 290.39,181.24 291.63,181.15" fill="#231f20"/>
<polygon points="296,180 296.47,181.15 297.71,181.24 296.76,182.05 297.06,183.26 296,182.6 294.94,183.26 295.24,182.05 294.29,181.24 295.53,181.15" fill="#231f20"/>
<text x="271.5" y="174.6" style="stroke-width:0.15px" textLength="44.7" lengthAdjust="spacingAndGlyphs" font-size="10">Basal OCR</text>
<text x="250.5" y="270.6" style="stroke-width:0.1px" textLength="14.6" lengthAdjust="spacingAndGlyphs" font-size="9.4" transform="rotate(-90 250.5 270.6)">OCR</text>
<text x="250.5" y="254.8" style="stroke-width:0.1px" textLength="75.9" lengthAdjust="spacingAndGlyphs" font-size="9.4" transform="rotate(-90 250.5 254.8)">(pmol/min/1000 cells)</text>
<line x1="348.8" y1="181.5" x2="348.8" y2="268.1" stroke="#231f20" stroke-width="1.3"/>
<line x1="345.8" y1="267.5" x2="348.8" y2="267.5" stroke="#231f20" stroke-width="1"/>
<text x="343.1" y="270.5" text-anchor="end" textLength="4.3" lengthAdjust="spacingAndGlyphs" font-size="8.5">0</text>
<line x1="345.8" y1="247.05" x2="348.8" y2="247.05" stroke="#231f20" stroke-width="1"/>
<text x="343.1" y="250.05" text-anchor="end" textLength="4.3" lengthAdjust="spacingAndGlyphs" font-size="8.5">5</text>
<line x1="345.8" y1="226.6" x2="348.8" y2="226.6" stroke="#231f20" stroke-width="1"/>
<text x="343.1" y="229.6" text-anchor="end" textLength="8.6" lengthAdjust="spacingAndGlyphs" font-size="8.5">10</text>
<line x1="345.8" y1="206.15" x2="348.8" y2="206.15" stroke="#231f20" stroke-width="1"/>
<text x="343.1" y="209.15" text-anchor="end" textLength="8.6" lengthAdjust="spacingAndGlyphs" font-size="8.5">15</text>
<line x1="345.8" y1="185.7" x2="348.8" y2="185.7" stroke="#231f20" stroke-width="1"/>
<text x="343.1" y="188.7" text-anchor="end" textLength="8.6" lengthAdjust="spacingAndGlyphs" font-size="8.5">20</text>
<line x1="364.5" y1="248.5" x2="364.5" y2="252.8" stroke="#555" stroke-width="1.1"/>
<line x1="360.36" y1="248.5" x2="368.64" y2="248.5" stroke="#3a3a3a" stroke-width="1.35"/>
<rect x="357.1" y="252.3" width="14.8" height="15.2" fill="#13508a"/>
<line x1="387.8" y1="205.6" x2="387.8" y2="213.4" stroke="#555" stroke-width="1.1"/>
<line x1="383.77" y1="205.6" x2="391.83" y2="205.6" stroke="#3a3a3a" stroke-width="1.35"/>
<rect x="380.6" y="212.9" width="14.4" height="54.6" fill="#c8102e"/>
<line x1="348.2" y1="267.5" x2="403.1" y2="267.5" stroke="#231f20" stroke-width="1.15"/>
<line x1="367.1" y1="185.5" x2="385" y2="185.5" stroke="#3a3a3a" stroke-width="1.15"/>
<polygon points="374.1,180 374.57,181.15 375.81,181.24 374.86,182.05 375.16,183.26 374.1,182.6 373.04,183.26 373.34,182.05 372.39,181.24 373.63,181.15" fill="#231f20"/>
<polygon points="378,180 378.47,181.15 379.71,181.24 378.76,182.05 379.06,183.26 378,182.6 376.94,183.26 377.24,182.05 376.29,181.24 377.53,181.15" fill="#231f20"/>
<text x="355.2" y="175" style="stroke-width:0.15px" textLength="41" lengthAdjust="spacingAndGlyphs" font-size="10">OCR Max</text>
<line x1="448.5" y1="181.2" x2="448.5" y2="268.1" stroke="#231f20" stroke-width="1.3"/>
<line x1="445.5" y1="267.5" x2="448.5" y2="267.5" stroke="#231f20" stroke-width="1"/>
<text x="442.8" y="270.5" text-anchor="end" textLength="4.3" lengthAdjust="spacingAndGlyphs" font-size="8.5">0</text>
<line x1="445.5" y1="240.13" x2="448.5" y2="240.13" stroke="#231f20" stroke-width="1"/>
<text x="442.8" y="243.13" text-anchor="end" textLength="4.3" lengthAdjust="spacingAndGlyphs" font-size="8.5">5</text>
<line x1="445.5" y1="212.77" x2="448.5" y2="212.77" stroke="#231f20" stroke-width="1"/>
<text x="442.8" y="215.77" text-anchor="end" textLength="8.6" lengthAdjust="spacingAndGlyphs" font-size="8.5">10</text>
<line x1="445.5" y1="185.41" x2="448.5" y2="185.41" stroke="#231f20" stroke-width="1"/>
<text x="442.8" y="188.41" text-anchor="end" textLength="8.6" lengthAdjust="spacingAndGlyphs" font-size="8.5">15</text>
<line x1="464.2" y1="251" x2="464.2" y2="256.7" stroke="#555" stroke-width="1.1"/>
<line x1="460.11" y1="251" x2="468.29" y2="251" stroke="#3a3a3a" stroke-width="1.35"/>
<rect x="456.9" y="256.2" width="14.6" height="11.3" fill="#13508a"/>
<line x1="487.4" y1="210.8" x2="487.4" y2="221.7" stroke="#555" stroke-width="1.1"/>
<line x1="483.37" y1="210.8" x2="491.43" y2="210.8" stroke="#3a3a3a" stroke-width="1.35"/>
<rect x="480.2" y="221.2" width="14.4" height="46.3" fill="#c8102e"/>
<line x1="447.9" y1="267.5" x2="503.1" y2="267.5" stroke="#231f20" stroke-width="1.15"/>
<line x1="467.1" y1="185.5" x2="484.6" y2="185.5" stroke="#3a3a3a" stroke-width="1.15"/>
<polygon points="475.7,180 476.17,181.15 477.41,181.24 476.46,182.05 476.76,183.26 475.7,182.6 474.64,183.26 474.94,182.05 473.99,181.24 475.23,181.15" fill="#231f20"/>
<text x="466.7" y="174.8" style="stroke-width:0.15px" textLength="17.8" lengthAdjust="spacingAndGlyphs" font-size="10">SRC</text>
<text x="6.5" y="301" font-weight="bold" font-size="11.2">C</text>
<text x="14.1" y="361.9" style="stroke-width:0.1px" textLength="29.6" lengthAdjust="spacingAndGlyphs" font-size="9.5" transform="rotate(-90 14.1 361.9)">Day 14</text>
<text x="68.1" y="304.2" style="stroke-width:0.15px" textLength="86.1" lengthAdjust="spacingAndGlyphs" font-size="10.2">Glycolysis stress test</text>
<text x="64.8" y="318.6" textLength="11.5" lengthAdjust="spacingAndGlyphs" font-size="8.2">Glc</text>
<text x="91.7" y="318.6" textLength="19.3" lengthAdjust="spacingAndGlyphs" font-size="8.2">Oligo</text>
<text x="122.5" y="318.6" textLength="18.3" lengthAdjust="spacingAndGlyphs" font-size="8.2">2-DG</text>
<line x1="70.3" y1="321.5" x2="70.3" y2="383.3" stroke="#8c8c8c" stroke-width="0.8"/>
<line x1="101.2" y1="321.5" x2="101.2" y2="383.3" stroke="#8c8c8c" stroke-width="0.8"/>
<line x1="131.5" y1="321.5" x2="131.5" y2="383.3" stroke="#8c8c8c" stroke-width="0.8"/>
<line x1="45.8" y1="311.2" x2="45.8" y2="384.1" stroke="#231f20" stroke-width="1.3"/>
<line x1="42.8" y1="383.5" x2="45.8" y2="383.5" stroke="#231f20" stroke-width="1"/>
<text x="40.1" y="386.5" text-anchor="end" textLength="4.3" lengthAdjust="spacingAndGlyphs" font-size="8.5">0</text>
<line x1="42.8" y1="369.8" x2="45.8" y2="369.8" stroke="#231f20" stroke-width="1"/>
<text x="40.1" y="372.8" text-anchor="end" textLength="4.3" lengthAdjust="spacingAndGlyphs" font-size="8.5">1</text>
<line x1="42.8" y1="356.1" x2="45.8" y2="356.1" stroke="#231f20" stroke-width="1"/>
<text x="40.1" y="359.1" text-anchor="end" textLength="4.3" lengthAdjust="spacingAndGlyphs" font-size="8.5">2</text>
<line x1="42.8" y1="342.4" x2="45.8" y2="342.4" stroke="#231f20" stroke-width="1"/>
<text x="40.1" y="345.4" text-anchor="end" textLength="4.3" lengthAdjust="spacingAndGlyphs" font-size="8.5">3</text>
<line x1="42.8" y1="328.7" x2="45.8" y2="328.7" stroke="#231f20" stroke-width="1"/>
<text x="40.1" y="331.7" text-anchor="end" textLength="4.3" lengthAdjust="spacingAndGlyphs" font-size="8.5">4</text>
<line x1="42.8" y1="315" x2="45.8" y2="315" stroke="#231f20" stroke-width="1"/>
<text x="40.1" y="318" text-anchor="end" textLength="4.3" lengthAdjust="spacingAndGlyphs" font-size="8.5">5</text>
<line x1="45.2" y1="383.5" x2="176.5" y2="383.5" stroke="#231f20" stroke-width="1.15"/>
<line x1="46" y1="383.5" x2="46" y2="386.5" stroke="#231f20" stroke-width="1"/>
<text x="46" y="395.7" text-anchor="middle" textLength="3.9" lengthAdjust="spacingAndGlyphs" font-size="8.3">0</text>
<line x1="77.7" y1="383.5" x2="77.7" y2="386.5" stroke="#231f20" stroke-width="1"/>
<text x="77.7" y="395.7" text-anchor="middle" textLength="7.8" lengthAdjust="spacingAndGlyphs" font-size="8.3">20</text>
<line x1="109.4" y1="383.5" x2="109.4" y2="386.5" stroke="#231f20" stroke-width="1"/>
<text x="109.4" y="395.7" text-anchor="middle" textLength="7.8" lengthAdjust="spacingAndGlyphs" font-size="8.3">40</text>
<line x1="141.1" y1="383.5" x2="141.1" y2="386.5" stroke="#231f20" stroke-width="1"/>
<text x="141.1" y="395.7" text-anchor="middle" textLength="7.8" lengthAdjust="spacingAndGlyphs" font-size="8.3">60</text>
<line x1="172.8" y1="383.5" x2="172.8" y2="386.5" stroke="#231f20" stroke-width="1"/>
<text x="172.8" y="395.7" text-anchor="middle" textLength="7.8" lengthAdjust="spacingAndGlyphs" font-size="8.3">80</text>
<text x="82.5" y="408.4" textLength="51.4" lengthAdjust="spacingAndGlyphs" font-size="8.8">Time (minutes)</text>
<text x="28.8" y="394" style="stroke-width:0.1px" textLength="17.3" lengthAdjust="spacingAndGlyphs" font-size="9.4" transform="rotate(-90 28.8 394)">ECAR</text>
<text x="28.8" y="375.5" style="stroke-width:0.1px" textLength="74.9" lengthAdjust="spacingAndGlyphs" font-size="9.4" transform="rotate(-90 28.8 375.5)">(mpH/min/1000 cells)</text>
<line x1="79.2" y1="338" x2="79.2" y2="351" stroke="#262626" stroke-width="0.8"/>
<line x1="77.7" y1="338" x2="80.7" y2="338" stroke="#262626" stroke-width="1"/>
<line x1="77.7" y1="351" x2="80.7" y2="351" stroke="#262626" stroke-width="1"/>
<line x1="89.6" y1="334.5" x2="89.6" y2="347.5" stroke="#262626" stroke-width="0.8"/>
<line x1="88.1" y1="334.5" x2="91.1" y2="334.5" stroke="#262626" stroke-width="1"/>
<line x1="88.1" y1="347.5" x2="91.1" y2="347.5" stroke="#262626" stroke-width="1"/>
<line x1="100" y1="332" x2="100" y2="347" stroke="#262626" stroke-width="0.8"/>
<line x1="98.5" y1="332" x2="101.5" y2="332" stroke="#262626" stroke-width="1"/>
<line x1="98.5" y1="347" x2="101.5" y2="347" stroke="#262626" stroke-width="1"/>
<line x1="110.3" y1="328.5" x2="110.3" y2="341" stroke="#262626" stroke-width="0.8"/>
<line x1="108.8" y1="328.5" x2="111.8" y2="328.5" stroke="#262626" stroke-width="1"/>
<line x1="108.8" y1="341" x2="111.8" y2="341" stroke="#262626" stroke-width="1"/>
<line x1="120.7" y1="326" x2="120.7" y2="339.5" stroke="#262626" stroke-width="0.8"/>
<line x1="119.2" y1="326" x2="122.2" y2="326" stroke="#262626" stroke-width="1"/>
<line x1="119.2" y1="339.5" x2="122.2" y2="339.5" stroke="#262626" stroke-width="1"/>
<line x1="131.1" y1="325.5" x2="131.1" y2="339" stroke="#262626" stroke-width="0.8"/>
<line x1="129.6" y1="325.5" x2="132.6" y2="325.5" stroke="#262626" stroke-width="1"/>
<line x1="129.6" y1="339" x2="132.6" y2="339" stroke="#262626" stroke-width="1"/>
<line x1="79.2" y1="349" x2="79.2" y2="360" stroke="#262626" stroke-width="0.8"/>
<line x1="77.7" y1="349" x2="80.7" y2="349" stroke="#262626" stroke-width="1"/>
<line x1="77.7" y1="360" x2="80.7" y2="360" stroke="#262626" stroke-width="1"/>
<line x1="89.6" y1="345" x2="89.6" y2="356" stroke="#262626" stroke-width="0.8"/>
<line x1="88.1" y1="345" x2="91.1" y2="345" stroke="#262626" stroke-width="1"/>
<line x1="88.1" y1="356" x2="91.1" y2="356" stroke="#262626" stroke-width="1"/>
<line x1="100" y1="344" x2="100" y2="355" stroke="#262626" stroke-width="0.8"/>
<line x1="98.5" y1="344" x2="101.5" y2="344" stroke="#262626" stroke-width="1"/>
<line x1="98.5" y1="355" x2="101.5" y2="355" stroke="#262626" stroke-width="1"/>
<line x1="110.3" y1="343" x2="110.3" y2="355" stroke="#262626" stroke-width="0.8"/>
<line x1="108.8" y1="343" x2="111.8" y2="343" stroke="#262626" stroke-width="1"/>
<line x1="108.8" y1="355" x2="111.8" y2="355" stroke="#262626" stroke-width="1"/>
<line x1="120.7" y1="343" x2="120.7" y2="355" stroke="#262626" stroke-width="0.8"/>
<line x1="119.2" y1="343" x2="122.2" y2="343" stroke="#262626" stroke-width="1"/>
<line x1="119.2" y1="355" x2="122.2" y2="355" stroke="#262626" stroke-width="1"/>
<line x1="131.1" y1="343.5" x2="131.1" y2="355" stroke="#262626" stroke-width="0.8"/>
<line x1="129.6" y1="343.5" x2="132.6" y2="343.5" stroke="#262626" stroke-width="1"/>
<line x1="129.6" y1="355" x2="132.6" y2="355" stroke="#262626" stroke-width="1"/>
<line x1="141.4" y1="369" x2="141.4" y2="374" stroke="#262626" stroke-width="0.8"/>
<line x1="139.9" y1="369" x2="142.9" y2="369" stroke="#262626" stroke-width="1"/>
<line x1="139.9" y1="374" x2="142.9" y2="374" stroke="#262626" stroke-width="1"/>
<line x1="151.8" y1="371.5" x2="151.8" y2="376.5" stroke="#262626" stroke-width="0.8"/>
<line x1="150.3" y1="371.5" x2="153.3" y2="371.5" stroke="#262626" stroke-width="1"/>
<line x1="150.3" y1="376.5" x2="153.3" y2="376.5" stroke="#262626" stroke-width="1"/>
<polyline points="48,374.6 58.4,375.6 68.8,376 79.2,344.4 89.6,341 100,339.5 110.3,334.6 120.7,332.7 131.1,332.2 141.4,373.9 151.8,375.5 162.2,376.3" fill="none" stroke="#000" stroke-width="1.4" stroke-linejoin="round"/>
<polyline points="48,380.9 58.4,381.5 68.8,381.5 79.2,376.4 89.6,375.8 100,375.7 110.3,375.6 120.7,375.6 131.1,375.2 141.4,380.4 151.8,381.4 162.2,382" fill="none" stroke="#000" stroke-width="1.4" stroke-linejoin="round"/>
<polyline points="48,377.1 58.4,377.9 68.8,377.9 79.2,354.2 89.6,350.3 100,349.4 110.3,347.8 120.7,347.8 131.1,348.1 141.4,371.6 151.8,374.1 162.2,375.8" fill="none" stroke="#000" stroke-width="1.4" stroke-linejoin="round"/>
<polyline points="48,380.6 58.4,381.4 68.8,381.4 79.2,375.9 89.6,375.2 100,375.1 110.3,375 120.7,375 131.1,374.6 141.4,380.1 151.8,381.1 162.2,381.8" fill="none" stroke="#000" stroke-width="1.4" stroke-linejoin="round"/>
<rect x="45.95" y="372.55" width="4.1" height="4.1" fill="#c8102e"/>
<rect x="56.35" y="373.55" width="4.1" height="4.1" fill="#c8102e"/>
<rect x="66.75" y="373.95" width="4.1" height="4.1" fill="#c8102e"/>
<rect x="77.15" y="342.35" width="4.1" height="4.1" fill="#c8102e"/>
<rect x="87.55" y="338.95" width="4.1" height="4.1" fill="#c8102e"/>
<rect x="97.95" y="337.45" width="4.1" height="4.1" fill="#c8102e"/>
<rect x="108.25" y="332.55" width="4.1" height="4.1" fill="#c8102e"/>
<rect x="118.65" y="330.65" width="4.1" height="4.1" fill="#c8102e"/>
<rect x="129.05" y="330.15" width="4.1" height="4.1" fill="#c8102e"/>
<rect x="139.35" y="371.85" width="4.1" height="4.1" fill="#c8102e"/>
<rect x="149.75" y="373.45" width="4.1" height="4.1" fill="#c8102e"/>
<rect x="160.15" y="374.25" width="4.1" height="4.1" fill="#c8102e"/>
<rect x="45.95" y="378.85" width="4.1" height="4.1" fill="#e98b9c"/>
<rect x="56.35" y="379.45" width="4.1" height="4.1" fill="#e98b9c"/>
<rect x="66.75" y="379.45" width="4.1" height="4.1" fill="#e98b9c"/>
<rect x="77.15" y="374.35" width="4.1" height="4.1" fill="#e98b9c"/>
<rect x="87.55" y="373.75" width="4.1" height="4.1" fill="#e98b9c"/>
<rect x="97.95" y="373.65" width="4.1" height="4.1" fill="#e98b9c"/>
<rect x="108.25" y="373.55" width="4.1" height="4.1" fill="#e98b9c"/>
<rect x="118.65" y="373.55" width="4.1" height="4.1" fill="#e98b9c"/>
<rect x="129.05" y="373.15" width="4.1" height="4.1" fill="#e98b9c"/>
<rect x="139.35" y="378.35" width="4.1" height="4.1" fill="#e98b9c"/>
<rect x="149.75" y="379.35" width="4.1" height="4.1" fill="#e98b9c"/>
<rect x="160.15" y="379.95" width="4.1" height="4.1" fill="#e98b9c"/>
<circle cx="48" cy="377.1" r="2.2" fill="#13508a"/>
<circle cx="58.4" cy="377.9" r="2.2" fill="#13508a"/>
<circle cx="68.8" cy="377.9" r="2.2" fill="#13508a"/>
<circle cx="79.2" cy="354.2" r="2.2" fill="#13508a"/>
<circle cx="89.6" cy="350.3" r="2.2" fill="#13508a"/>
<circle cx="100" cy="349.4" r="2.2" fill="#13508a"/>
<circle cx="110.3" cy="347.8" r="2.2" fill="#13508a"/>
<circle cx="120.7" cy="347.8" r="2.2" fill="#13508a"/>
<circle cx="131.1" cy="348.1" r="2.2" fill="#13508a"/>
<circle cx="141.4" cy="371.6" r="2.2" fill="#13508a"/>
<circle cx="151.8" cy="374.1" r="2.2" fill="#13508a"/>
<circle cx="162.2" cy="375.8" r="2.2" fill="#13508a"/>
<circle cx="48" cy="380.6" r="2.2" fill="#84a9d1"/>
<circle cx="58.4" cy="381.4" r="2.2" fill="#84a9d1"/>
<circle cx="68.8" cy="381.4" r="2.2" fill="#84a9d1"/>
<circle cx="79.2" cy="375.9" r="2.2" fill="#84a9d1"/>
<circle cx="89.6" cy="375.2" r="2.2" fill="#84a9d1"/>
<circle cx="100" cy="375.1" r="2.2" fill="#84a9d1"/>
<circle cx="110.3" cy="375" r="2.2" fill="#84a9d1"/>
<circle cx="120.7" cy="375" r="2.2" fill="#84a9d1"/>
<circle cx="131.1" cy="374.6" r="2.2" fill="#84a9d1"/>
<circle cx="141.4" cy="380.1" r="2.2" fill="#84a9d1"/>
<circle cx="151.8" cy="381.1" r="2.2" fill="#84a9d1"/>
<circle cx="162.2" cy="381.8" r="2.2" fill="#84a9d1"/>
<line x1="145.8" y1="318.8" x2="154.6" y2="318.8" stroke="#000" stroke-width="1.1"/>
<circle cx="150.2" cy="318.8" r="2.1" fill="#84a9d1"/>
<text x="157.9" y="321.8" textLength="66.9" lengthAdjust="spacingAndGlyphs" font-size="8.3">Unstimulated CONT</text>
<line x1="145.8" y1="330.4" x2="154.6" y2="330.4" stroke="#000" stroke-width="1.1"/>
<rect x="148.2" y="328.4" width="4" height="4" fill="#e98b9c"/>
<text x="157.9" y="333.4" textLength="56.3" lengthAdjust="spacingAndGlyphs" font-size="8.3">Unstimulated TFI</text>
<line x1="145.8" y1="347.1" x2="154.6" y2="347.1" stroke="#000" stroke-width="1.1"/>
<circle cx="150.2" cy="347.1" r="2.1" fill="#13508a"/>
<text x="157.9" y="350.1" textLength="20.8" lengthAdjust="spacingAndGlyphs" font-size="8.3">CONT</text>
<line x1="145.8" y1="359.6" x2="154.6" y2="359.6" stroke="#000" stroke-width="1.1"/>
<rect x="148.2" y="357.6" width="4" height="4" fill="#c8102e"/>
<text x="157.9" y="362.6" textLength="10.2" lengthAdjust="spacingAndGlyphs" font-size="8.3">TFI</text>
<line x1="266.8" y1="311.1" x2="266.8" y2="398.1" stroke="#231f20" stroke-width="1.3"/>
<line x1="263.8" y1="397.5" x2="266.8" y2="397.5" stroke="#231f20" stroke-width="1"/>
<text x="261.1" y="400.5" text-anchor="end" textLength="4.3" lengthAdjust="spacingAndGlyphs" font-size="8.5">0</text>
<line x1="263.8" y1="377.02" x2="266.8" y2="377.02" stroke="#231f20" stroke-width="1"/>
<text x="261.1" y="380.02" text-anchor="end" textLength="4.3" lengthAdjust="spacingAndGlyphs" font-size="8.5">1</text>
<line x1="263.8" y1="356.55" x2="266.8" y2="356.55" stroke="#231f20" stroke-width="1"/>
<text x="261.1" y="359.55" text-anchor="end" textLength="4.3" lengthAdjust="spacingAndGlyphs" font-size="8.5">2</text>
<line x1="263.8" y1="336.07" x2="266.8" y2="336.07" stroke="#231f20" stroke-width="1"/>
<text x="261.1" y="339.07" text-anchor="end" textLength="4.3" lengthAdjust="spacingAndGlyphs" font-size="8.5">3</text>
<line x1="263.8" y1="315.6" x2="266.8" y2="315.6" stroke="#231f20" stroke-width="1"/>
<text x="261.1" y="318.6" text-anchor="end" textLength="4.3" lengthAdjust="spacingAndGlyphs" font-size="8.5">4</text>
<line x1="282.15" y1="341.6" x2="282.15" y2="355.7" stroke="#555" stroke-width="1.1"/>
<line x1="277.98" y1="341.6" x2="286.32" y2="341.6" stroke="#3a3a3a" stroke-width="1.35"/>
<rect x="274.7" y="355.2" width="14.9" height="42.3" fill="#13508a"/>
<line x1="305.5" y1="323.4" x2="305.5" y2="340.7" stroke="#555" stroke-width="1.1"/>
<line x1="301.36" y1="323.4" x2="309.64" y2="323.4" stroke="#3a3a3a" stroke-width="1.35"/>
<rect x="298.1" y="340.2" width="14.8" height="57.3" fill="#c8102e"/>
<line x1="266.2" y1="397.5" x2="321.1" y2="397.5" stroke="#231f20" stroke-width="1.15"/>
<text x="272.5" y="303.8" style="stroke-width:0.15px" textLength="41.5" lengthAdjust="spacingAndGlyphs" font-size="10">Glycolysis</text>
<text x="250.4" y="401.2" style="stroke-width:0.1px" textLength="17.3" lengthAdjust="spacingAndGlyphs" font-size="9.4" transform="rotate(-90 250.4 401.2)">ECAR</text>
<text x="250.4" y="382.7" style="stroke-width:0.1px" textLength="75.9" lengthAdjust="spacingAndGlyphs" font-size="9.4" transform="rotate(-90 250.4 382.7)">(mpH/min/1000 cells)</text>
<line x1="348.7" y1="311.1" x2="348.7" y2="398.1" stroke="#231f20" stroke-width="1.3"/>
<line x1="345.7" y1="397.5" x2="348.7" y2="397.5" stroke="#231f20" stroke-width="1"/>
<text x="343" y="400.5" text-anchor="end" textLength="4.3" lengthAdjust="spacingAndGlyphs" font-size="8.5">0</text>
<line x1="345.7" y1="381.08" x2="348.7" y2="381.08" stroke="#231f20" stroke-width="1"/>
<text x="343" y="384.08" text-anchor="end" textLength="4.3" lengthAdjust="spacingAndGlyphs" font-size="8.5">1</text>
<line x1="345.7" y1="364.66" x2="348.7" y2="364.66" stroke="#231f20" stroke-width="1"/>
<text x="343" y="367.66" text-anchor="end" textLength="4.3" lengthAdjust="spacingAndGlyphs" font-size="8.5">2</text>
<line x1="345.7" y1="348.24" x2="348.7" y2="348.24" stroke="#231f20" stroke-width="1"/>
<text x="343" y="351.24" text-anchor="end" textLength="4.3" lengthAdjust="spacingAndGlyphs" font-size="8.5">3</text>
<line x1="345.7" y1="331.82" x2="348.7" y2="331.82" stroke="#231f20" stroke-width="1"/>
<text x="343" y="334.82" text-anchor="end" textLength="4.3" lengthAdjust="spacingAndGlyphs" font-size="8.5">4</text>
<line x1="345.7" y1="315.4" x2="348.7" y2="315.4" stroke="#231f20" stroke-width="1"/>
<text x="343" y="318.4" text-anchor="end" textLength="4.3" lengthAdjust="spacingAndGlyphs" font-size="8.5">5</text>
<line x1="364.35" y1="349.3" x2="364.35" y2="362.4" stroke="#555" stroke-width="1.1"/>
<line x1="360.18" y1="349.3" x2="368.52" y2="349.3" stroke="#3a3a3a" stroke-width="1.35"/>
<rect x="356.9" y="361.9" width="14.9" height="35.6" fill="#13508a"/>
<line x1="387.65" y1="326.2" x2="387.65" y2="342.9" stroke="#555" stroke-width="1.1"/>
<line x1="383.48" y1="326.2" x2="391.82" y2="326.2" stroke="#3a3a3a" stroke-width="1.35"/>
<rect x="380.2" y="342.4" width="14.9" height="55.1" fill="#c8102e"/>
<line x1="348.1" y1="397.5" x2="403.5" y2="397.5" stroke="#231f20" stroke-width="1.15"/>
<text x="336.3" y="304.4" style="stroke-width:0.15px" textLength="78.3" lengthAdjust="spacingAndGlyphs" font-size="10">Glycolytic capacity</text>
<line x1="448.5" y1="311.2" x2="448.5" y2="398.1" stroke="#231f20" stroke-width="1.3"/>
<line x1="445.5" y1="397.5" x2="448.5" y2="397.5" stroke="#231f20" stroke-width="1"/>
<text x="442.8" y="400.5" text-anchor="end" textLength="10.7" lengthAdjust="spacingAndGlyphs" font-size="8.5">0.0</text>
<line x1="445.5" y1="376.98" x2="448.5" y2="376.98" stroke="#231f20" stroke-width="1"/>
<text x="442.8" y="379.98" text-anchor="end" textLength="10.7" lengthAdjust="spacingAndGlyphs" font-size="8.5">0.2</text>
<line x1="445.5" y1="356.46" x2="448.5" y2="356.46" stroke="#231f20" stroke-width="1"/>
<text x="442.8" y="359.46" text-anchor="end" textLength="10.7" lengthAdjust="spacingAndGlyphs" font-size="8.5">0.4</text>
<line x1="445.5" y1="335.94" x2="448.5" y2="335.94" stroke="#231f20" stroke-width="1"/>
<text x="442.8" y="338.94" text-anchor="end" textLength="10.7" lengthAdjust="spacingAndGlyphs" font-size="8.5">0.6</text>
<line x1="445.5" y1="315.42" x2="448.5" y2="315.42" stroke="#231f20" stroke-width="1"/>
<text x="442.8" y="318.42" text-anchor="end" textLength="10.7" lengthAdjust="spacingAndGlyphs" font-size="8.5">0.8</text>
<line x1="463.8" y1="367.2" x2="463.8" y2="381.9" stroke="#555" stroke-width="1.1"/>
<line x1="459.71" y1="367.2" x2="467.89" y2="367.2" stroke="#3a3a3a" stroke-width="1.35"/>
<rect x="456.5" y="381.4" width="14.6" height="16.1" fill="#13508a"/>
<line x1="487.3" y1="322.2" x2="487.3" y2="341.3" stroke="#555" stroke-width="1.1"/>
<line x1="483.1" y1="322.2" x2="491.5" y2="322.2" stroke="#3a3a3a" stroke-width="1.35"/>
<rect x="479.8" y="340.8" width="15" height="56.7" fill="#c8102e"/>
<line x1="447.9" y1="397.5" x2="503.1" y2="397.5" stroke="#231f20" stroke-width="1.15"/>
<line x1="467.1" y1="315.4" x2="485" y2="315.4" stroke="#3a3a3a" stroke-width="1.15"/>
<polygon points="475.8,309.9 476.27,311.05 477.51,311.14 476.56,311.95 476.86,313.16 475.8,312.5 474.74,313.16 475.04,311.95 474.09,311.14 475.33,311.05" fill="#231f20"/>
<text x="437.5" y="304.8" style="stroke-width:0.15px" textLength="75.1" lengthAdjust="spacingAndGlyphs" font-size="10">Glycolytic reserve</text>
<rect x="329.3" y="409.9" width="5.2" height="5" fill="#13508a"/>
<text x="337.5" y="415.1" textLength="71.8" lengthAdjust="spacingAndGlyphs" font-size="7.8">Continuous AMG 562</text>
<rect x="421.9" y="409.9" width="5" height="5" fill="#c8102e"/>
<text x="429.7" y="415.1" textLength="9.7" lengthAdjust="spacingAndGlyphs" font-size="7.8">TFI</text>
<rect x="0.5" y="0.5" width="519" height="421" fill="none" stroke="#000" stroke-width="1.2"/>
</svg>
</body></html>
